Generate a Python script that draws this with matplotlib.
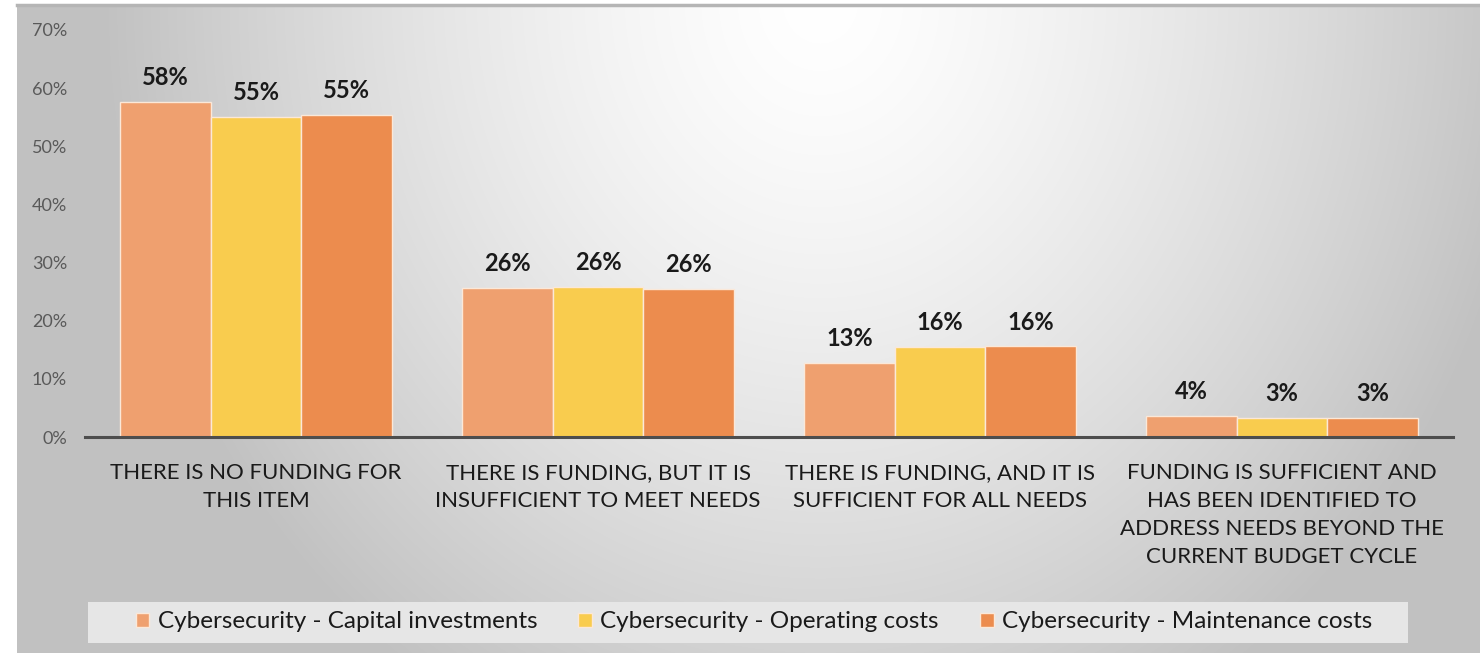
import matplotlib
matplotlib.use("Agg")
import matplotlib.pyplot as plt
import numpy as np
from matplotlib.patches import Patch, Rectangle

W, H, DPI = 1480, 653, 100

categories = [
    "THERE IS NO FUNDING FOR\nTHIS ITEM",
    "THERE IS FUNDING, BUT IT IS\nINSUFFICIENT TO MEET NEEDS",
    "THERE IS FUNDING, AND IT IS\nSUFFICIENT FOR ALL NEEDS",
    "FUNDING IS SUFFICIENT AND\nHAS BEEN IDENTIFIED TO\nADDRESS NEEDS BEYOND THE\nCURRENT BUDGET CYCLE",
]
series_names = [
    "Cybersecurity - Capital investments",
    "Cybersecurity - Operating costs",
    "Cybersecurity - Maintenance costs",
]
capital = [57.6, 25.6, 12.8, 3.6]
operating = [55.0, 25.8, 15.5, 3.3]
maintenance = [55.4, 25.5, 15.6, 3.3]
yticks = [0, 10, 20, 30, 40, 50, 60, 70]

colors = ["#EFA06F", "#F9CC4E", "#EC8C4E"]
FONT = "Lato"

fig = plt.figure(figsize=(W / DPI, H / DPI), dpi=DPI)
fig.patch.set_facecolor("white")

# background panel with a soft radial gradient
bg = fig.add_axes([17 / W, 0, 1 - 17 / W, 1 - 5 / H])
xx, yy = np.meshgrid(np.arange(17, W), np.arange(5, H))
t = np.sqrt(((xx - 820) / 720.0) ** 2 + ((yy - 0) / 820.0) ** 2)
t = np.clip(t, 0, 1.0) ** 1.4
shade = (255 - 62 * t) / 255.0
bg.imshow(np.dstack([shade, shade, shade]), aspect="auto", extent=[0, 1, 0, 1],
          interpolation="bilinear")
bg.set_axis_off()
fig.add_artist(plt.Line2D([17 / W, 1], [1 - 5 / H, 1 - 5 / H], color="#b5b5b5",
                          lw=2.5, transform=fig.transFigure))

ax = fig.add_axes([85 / W, 1 - 437 / H, (1453 - 85) / W, (437 - 30) / H])
ax.patch.set_alpha(0)

x = np.arange(len(categories))
width = 0.265
for i, (vals, name) in enumerate(zip([capital, operating, maintenance], series_names)):
    pos = x + (i - 1) * width
    ax.bar(pos, vals, width, color=colors[i], edgecolor="#fbe8d8",
           linewidth=1.0, label=name, zorder=2)
    for xb, v in zip(pos, vals):
        ax.text(xb, v + 2.2, f"{v:.0f}%", ha="center", va="bottom",
                fontsize=17, fontweight="bold", color="#1a1a1a", family=FONT)

ax.set_xlim(-0.5, len(categories) - 0.5)
ax.set_ylim(0, 70)
ax.set_yticks(yticks)
ax.set_yticklabels([f"{v}%" for v in yticks], fontsize=13, color="#595959", family=FONT)
ax.set_xticks(x)
ax.set_xticklabels(categories, fontsize=16, color="#1a1a1a", family=FONT,
                   linespacing=1.5, va="top")
ax.tick_params(axis="y", length=0, pad=13)
ax.tick_params(axis="x", length=0, pad=19)
for s in ["top", "right", "left"]:
    ax.spines[s].set_visible(False)
ax.spines["bottom"].set_color("#4d4d4d")
ax.spines["bottom"].set_linewidth(2.2)
ax.spines["bottom"].set_zorder(3)

# legend box drawn separately so it can be wider than the entries
fig.add_artist(Rectangle((88 / W, 1 - 643 / H), (1408 - 88) / W, 41 / H,
                         transform=fig.transFigure, facecolor="#e6e6e6",
                         edgecolor="none", zorder=1))
handles = [Patch(facecolor=c, edgecolor="#fbe8d8") for c in colors]
leg = fig.legend(handles, series_names, loc="center",
                 bbox_to_anchor=(754 / W, 1 - 622 / H), ncol=3, frameon=False,
                 prop={"family": FONT, "size": 17.5},
                 handlelength=0.55, handleheight=0.55, handletextpad=0.35,
                 columnspacing=1.7, borderpad=0.3, borderaxespad=0)
leg.set_zorder(2)
for txt in leg.get_texts():
    txt.set_color("#1a1a1a")

fig.savefig("out.png", dpi=DPI)
